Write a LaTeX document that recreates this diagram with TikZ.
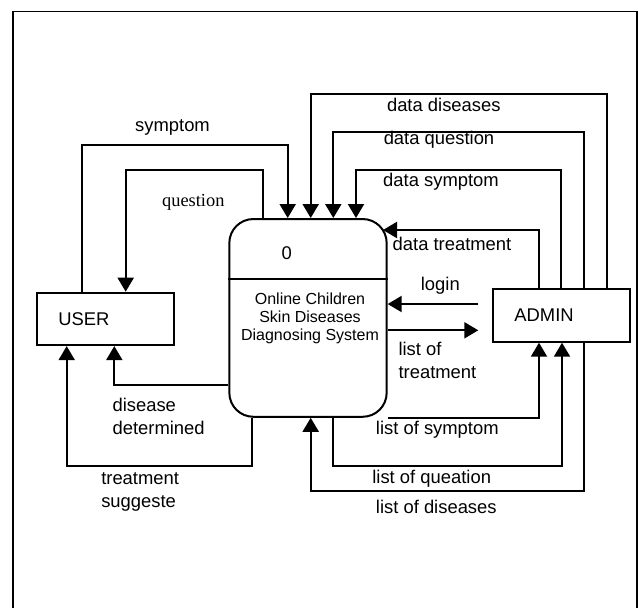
\documentclass[tikz,border=0pt]{standalone}
\usepackage{fontspec}
\setmainfont{Liberation Sans}
\newfontfamily\timesfont{Liberation Serif}
\usetikzlibrary{arrows.meta}

\begin{document}
\begin{tikzpicture}[x=0.75pt,y=-0.75pt,
    every node/.style={font=\fontsize{13.8}{16.8}\selectfont},
    ent/.style={draw, line width=1.5pt, minimum width=102.5pt, minimum height=39.3pt,
      text width=71pt, inner xsep=15.75pt, align=left},
    proc/.style={draw, line width=1.5pt, rounded corners=18pt, minimum width=118pt, minimum height=148.3pt},
    lbl/.style={inner sep=0pt},
    flow/.style={line width=1.5pt, -{Triangle[length=10.5pt,width=12pt]}}]
  \useasboundingbox (0,0) rectangle (638,608);

  % page frame
  \draw[line width=1.4pt] (13.3,608) -- (13.3,11.5) -- (636.7,11.5) -- (636.7,608);

  % entities and process
  \node[ent] (user) at (105.7,318.9) {USER};
  \node[ent] (admin) at (561.7,315.5) {ADMIN};
  \node[proc] (sys) at (308,317.9) {};
  \draw[line width=1.5pt] (sys.west |- 0,279) -- (sys.east |- 0,279);
  \node[lbl] (num) at (286.7,252.7) {0};
  \node[lbl, align=center, font=\fontsize{12}{13.5}\selectfont] (sysname) at (310,318.5)
    {Online Children\\Skin Diseases\\Diagnosing System};

  \coordinate (dtin) at (383,230);
  \coordinate (lgstart) at (478.3,304);
  \coordinate (ltend) at (478.3,330.3);

  % user flows
  \draw[flow] (user.north -| 81.7,0) |- (287.7,145) -- (sys.north -| 287.7,0);
  \draw[flow] (sys.north -| 262.7,0) |- (125.7,170) -- (user.north -| 125.7,0);
  \draw[flow] (sys.west |- 0,385) -| (user.south -| 114.3,0);
  \draw[flow] (sys.south -| 251.7,0) |- (66.7,466) -- (user.south -| 66.7,0);

  % admin flows
  \draw[flow] (admin.north -| 607.3,0) |- (310.7,94.3) -- (sys.north -| 310.7,0);
  \draw[flow] (admin.north -| 584,0) |- (333.3,131.7) -- (sys.north -| 333.3,0);
  \draw[flow] (admin.north -| 561.3,0) |- (356,170) -- (sys.north -| 356,0);
  \draw[flow] (admin.north -| 539,0) |- (dtin);
  \draw[flow] (lgstart) -- (sys.east |- lgstart);
  \draw[flow] (sys.east |- ltend) -- (ltend);
  \draw[flow] (sys.south east) -| (admin.south -| 539,0);
  \draw[flow] (sys.south -| 332.7,0) |- (562,466) -- (admin.south -| 562,0);
  \draw[flow] (admin.south -| 584,0) |- (310.7,490.7) -- (sys.south -| 310.7,0);

  % labels
  \node[lbl] (l1) at (172.5,127.3) {symptom};
  \node[lbl, font=\timesfont\fontsize{13.8}{16.8}\selectfont] (l2) at (193.3,202.7) {question};
  \node[lbl] (l3) at (443.8,105) {data diseases};
  \node[lbl] (l4) at (439,140) {data question};
  \node[lbl] (l5) at (441,181.7) {data symptom};
  \node[lbl] (l6) at (452,244.3) {data treatment};
  \node[lbl] (l7) at (440.3,286) {login};
  \node[lbl, anchor=west, align=left] (l8) at (398.3,360.5) {list of\\treatment};
  \node[lbl] (l9) at (437.3,430) {list of symptom};
  \node[lbl] (l10) at (431.7,478.3) {list of queation};
  \node[lbl] (l11) at (436.3,507.3) {list of diseases};
  \node[lbl, anchor=west, align=left] (l12) at (112.3,416.3) {disease\\determined};
  \node[lbl, anchor=west, align=left] (l13) at (101,492) {treatment\\suggeste};
\end{tikzpicture}
\end{document}
